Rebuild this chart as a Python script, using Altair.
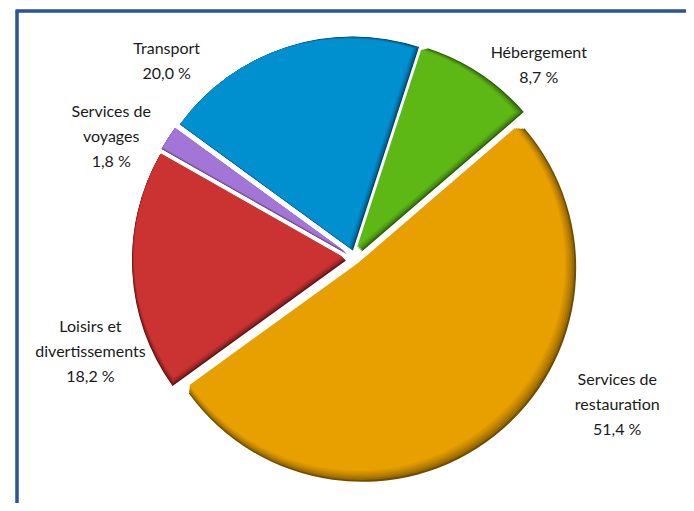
import math
import altair as alt
import pandas as pd

# ---- data ----
categories = ["Hébergement", "Services de restauration", "Loisirs et divertissements",
              "Services de voyages", "Transport"]
values = [8.7, 51.4, 18.2, 1.8, 20.0]
label_names = ["Hébergement", "Services de\nrestauration", "Loisirs et\ndivertissements",
               "Services de\nvoyages", "Transport"]

# ---- styles ----
MAIN = ["#5DB816", "#E8A000", "#CB3333", "#A275D6", "#0090D0"]
DARK = ["#2A560A", "#6E4C00", "#561212", "#4A3168", "#003F62"]

W, H = 678, 495
CX, CY = 348, 252          # pie centre (px)
R = 214                    # outer radius (px)
EXPLODE = 10               # slice explosion (px)
START = math.radians(18)   # angle of first slice start
LH = 25                    # label line height
N_SHADE = 7                # bevel shading steps

# label anchor: (angle in degrees from 12 o'clock, distance from pie centre px)
LABEL_POLAR = {
    "Hébergement": (43.2, 267),
    "Services de restauration": (119.1, 299),
    "Loisirs et divertissements": (250.9, 281),
    "Services de voyages": (296.7, 274),
    "Transport": (316.3, 274),
}


def mix(c1, c2, t):
    a = [int(c1[i:i + 2], 16) for i in (1, 3, 5)]
    b = [int(c2[i:i + 2], 16) for i in (1, 3, 5)]
    return "#" + "".join(f"{round(x + (y - x) * t):02x}" for x, y in zip(a, b))


df = pd.DataFrame({
    "category": categories,
    "value": values,
    "order": list(range(len(categories))),
    "label": [f"{n}\n{str(v).replace('.', ',')} %" for n, v in zip(label_names, values)],
    "la": [math.radians(LABEL_POLAR[c][0]) for c in categories],
    "lr": [LABEL_POLAR[c][1] for c in categories],
})

base = (
    alt.Chart(df)
    .transform_joinaggregate(total="sum(value)")
    .transform_window(cum="sum(value)", sort=[alt.SortField("order")], frame=[None, 0])
    .transform_calculate(t0=f"{START} + 2*PI*(datum.cum - datum.value)/datum.total")
    .transform_calculate(t1=f"{START} + 2*PI*datum.cum/datum.total")
    .transform_calculate(mid="(datum.t0 + datum.t1)/2")
    .transform_calculate(cx=f"{CX} + {EXPLODE}*sin(datum.mid)")
    .transform_calculate(cy=f"{CY} - {EXPLODE}*cos(datum.mid)")
)


def arc_layer(shift, dr, rng):
    return (
        base.transform_calculate(px=f"datum.cx + ({shift})")
        .transform_calculate(py=f"datum.cy + ({shift})")
        .mark_arc(outerRadius=R - dr, stroke=None)
        .encode(
            theta=alt.Theta("t0:Q", scale=None),
            theta2="t1:Q",
            x=alt.X("px:Q", scale=None),
            y=alt.Y("py:Q", scale=None),
            color=alt.Color("category:N", scale=alt.Scale(domain=categories, range=rng), legend=None),
        )
    )


arc_layers = []
for i in range(N_SHADE):
    t = i / (N_SHADE - 1)
    rng = [mix(d, m, t ** 0.6) for d, m in zip(DARK, MAIN)]
    arc_layers.append(arc_layer(-4.5 * t, 6.5 * t, rng))

labels = (
    alt.Chart(df)
    .transform_calculate(lx=f"{CX} + datum.lr*sin(datum.la)")
    .transform_calculate(
        ly=f"{CY} - datum.lr*cos(datum.la) - (length(split(datum.label, '\\n')) - 1)*{LH / 2}"
    )
    .mark_text(lineBreak="\n", font="Lato", fontSize=16, lineHeight=LH,
               align="center", baseline="middle", color="#1a1a1a")
    .encode(x=alt.X("lx:Q", scale=None), y=alt.Y("ly:Q", scale=None), text="label:N")
)

border = alt.Chart(df).mark_rect(fill=None, stroke="#2F5592", strokeWidth=2.5).encode(
    x=alt.value(9), x2=alt.value(W + 40), y=alt.value(3), y2=alt.value(H + 40)
)

chart = (
    alt.layer(border, *arc_layers, labels)
    .resolve_scale(color="independent")
    .properties(width=W, height=H, padding=0, autosize=alt.AutoSizeParams(type="none"))
    .configure_view(stroke=None)
)

chart.save("out.html", embed_options={"renderer": "svg", "actions": False})
